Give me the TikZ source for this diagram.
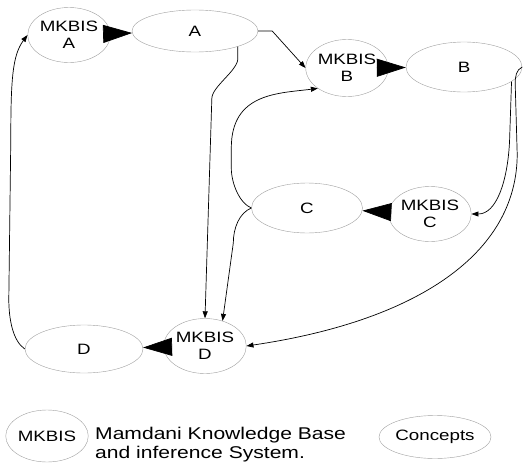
\documentclass[tikz,border=0pt]{standalone}
\usepackage{fontspec}
\setmainfont{Liberation Sans}
\usepackage{graphicx}
\usetikzlibrary{shapes.geometric, arrows.meta, positioning, calc}

\newcommand{\wtext}[1]{\scalebox{1.25}[1]{#1}}

\begin{document}
\begin{tikzpicture}[
    x=1pt, y=-1pt,
    mkbis/.style={draw=gray!75, ellipse, minimum width=62pt, minimum height=55pt, inner sep=0pt, align=center, font=\fontsize{15}{17}\selectfont},
    concept/.style={draw=gray!75, ellipse, minimum width=116pt, minimum height=48pt, inner sep=0pt, font=\fontsize{15}{17}\selectfont},
    arrow/.style={-{Triangle[length=7pt, width=5pt]}, line width=0.7pt},
    bigarrow/.style={-{Triangle[length=29pt, width=18pt]}, line width=0.7pt},
]
\useasboundingbox (0,0) rectangle (525,466);

% MKBIS nodes
\node[mkbis] (mkbisA) at (69,35) {\wtext{MKBIS}\\\wtext{A}};
\node[mkbis, minimum width=60pt, minimum height=57pt] (mkbisB) at (347,68) {\wtext{MKBIS}\\\wtext{B}};
\node[mkbis, minimum width=64pt] (mkbisC) at (430,214) {\wtext{MKBIS}\\\wtext{C}};
\node[mkbis, minimum width=64pt] (mkbisD) at (205,346) {\wtext{MKBIS}\\\wtext{D}};

% Concepts
\node[concept, minimum width=126pt, minimum height=42pt] (conA) at (195,31) {\wtext{A}};
\node[concept, minimum height=50pt] (conB) at (464,67) {\wtext{B}};
\node[concept, minimum width=111pt, minimum height=50pt] (conC) at (307,208) {\wtext{C}};
\node[concept, minimum width=118pt] (conD) at (84,349) {\wtext{D}};

% Legend
\node[mkbis, minimum height=52pt] (legMkbis) at (47,436) {\wtext{MKBIS}};
\node[anchor=west, inner sep=0pt, align=left, font=\fontsize{17}{18.5}\selectfont] (legText) at (95,444.5) {\scalebox{1.24}[1]{Mamdani Knowledge Base}\\\scalebox{1.24}[1]{and inference System.}};
\node[concept, minimum width=110pt, minimum height=43pt] (legConcept) at (435,437) {\wtext{Concepts}};

% Arrows
\draw[bigarrow] (mkbisA) -- (conA);
\draw[bigarrow] (mkbisB) -- (conB);
\draw[bigarrow] (mkbisC) -- (conC);
\draw[bigarrow] (mkbisD) -- (conD);
\draw[arrow] (conA.east) -- ++(14,0) -- (mkbisB.west);
\draw[arrow] (conA.-20) -- ++(0,12) .. controls +(0,12) and +(0,-12) .. ++(-26,40) -- (mkbisD.north);
\draw[arrow] (conC.west) .. controls +(-12,-5) and +(0,15) .. ++(-20,-40) -- ++(0,-20) .. controls +(0,-55) and +(-40,5) .. (mkbisB.215);
\draw[arrow] (conC.west) .. controls +(-12,5) and +(0,-15) .. ++(-18,35) -- (mkbisD.55);
\draw[arrow] (conB.-17) -- ++(-2,60) .. controls +(-2,40) and +(25,0) .. (mkbisC.east);
\draw[arrow] (conB.east) .. controls +(-6,3) and +(0,-8) .. ++(-7,17) -- ++(2,70) .. controls +(0,100) and +(170,-25) .. (mkbisD.east);
\draw[arrow] (conD.west) .. controls +(-12,-8) and +(0,20) .. ++(-16,-50) -- ++(2,-160) .. controls +(0,-60) and +(-15,20) .. (mkbisA.west);

\end{tikzpicture}
\end{document}
